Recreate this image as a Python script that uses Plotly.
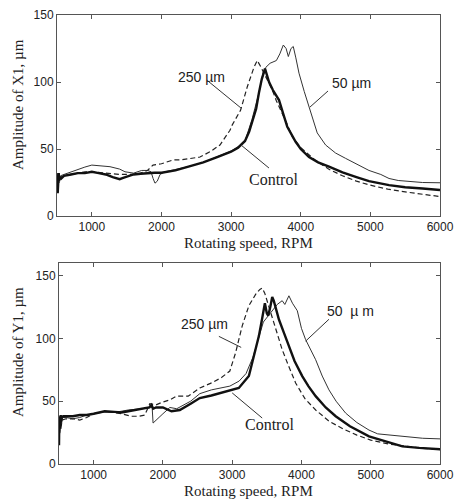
import plotly.graph_objects as go

# ---------------- data ----------------
# Top panel: Amplitude of X1
x1_ctrl_rpm = [500, 505, 510, 515, 520, 525, 530, 540, 560, 600, 700, 800, 900, 1000, 1100, 1200, 1300, 1400,
               1450, 1500, 1600, 1700, 1800, 1900, 2000, 2200, 2400, 2600, 2800, 3000, 3100, 3200, 3260, 3300,
               3330, 3360, 3400, 3440, 3487, 3520, 3545, 3600, 3688, 3750, 3807, 3927, 4000, 4119, 4250, 4406,
               4600, 4800, 4980, 5268, 5500, 5750, 6000]
x1_ctrl = [20, 31, 17, 30, 22, 32, 26, 29, 28, 30, 31, 32, 32, 33, 32, 31, 29, 27.5,
           28.5, 29.5, 31, 31.5, 32, 32.3, 32.3, 34, 37, 40, 44, 48, 51, 56, 63, 70,
           75, 80, 92, 102, 110, 105, 100, 94, 86.5, 76, 66.6, 55.4, 50, 44, 40, 36.8,
           32.5, 29, 26, 23, 21.5, 20.5, 19.4]

x1_50_rpm = [500, 505, 510, 520, 530, 550, 600, 700, 800, 900, 1000, 1100, 1261, 1400, 1476, 1600, 1716,
             1800, 1850, 1880, 1907, 1940, 1980, 2050, 2200, 2400, 2600, 2800, 3000, 3100, 3200, 3300,
             3400, 3460, 3500, 3560, 3650, 3700, 3750, 3790, 3822, 3860, 3893, 3930, 3975, 4050, 4120,
             4237, 4357, 4500, 4645, 4800, 4980, 5150, 5268, 5400, 5555, 5750, 6000]
x1_50 = [25, 32, 18, 30, 27, 30, 31, 33, 35, 36.5, 38, 37.5, 36.8, 35, 33, 32, 34,
         34, 33, 28, 24.5, 26, 31, 33, 34.5, 37, 40, 44, 48.5, 51.5, 56, 72,
         92, 107, 111, 114, 116, 121, 127.6, 125, 119, 125, 126.5, 118, 106.6, 93, 81.5,
         62, 53, 47, 43, 39, 34, 31, 28, 26.5, 25.6, 25, 24.8]

x1_250_rpm = [500, 505, 510, 520, 530, 550, 600, 700, 800, 900, 1000, 1200, 1400, 1600, 1700, 1800, 1879,
              2000, 2166, 2300, 2553, 2700, 2840, 2984, 3017, 3137, 3233, 3329, 3376, 3420, 3480, 3540,
              3592, 3650, 3736, 3800, 3880, 4000, 4200, 4400, 4600, 4800, 5000, 5250, 5500, 5750, 6000]
x1_250 = [22, 30, 19, 29, 25, 29, 30, 31, 32, 33, 33, 32, 31, 31, 32, 34, 38,
          39, 41.8, 42, 44, 48, 53, 64, 68, 79, 96.5, 111, 116, 112, 106, 100,
          94, 86, 76.8, 69, 59, 51, 42, 35, 30, 26, 23, 20, 18, 16.5, 14.5]

# Bottom panel: Amplitude of Y1
y1_ctrl_rpm = [500, 505, 510, 515, 520, 525, 530, 540, 560, 600, 700, 800, 900, 1000, 1160, 1300, 1401,
               1500, 1600, 1700, 1800, 1835, 1860, 1900, 2000, 2124, 2244, 2400, 2533, 2700, 2800, 2952,
               3096, 3241, 3314, 3386, 3430, 3472, 3500, 3520, 3550, 3578, 3600, 3675, 3750, 3819, 3900,
               4011, 4100, 4205, 4350, 4494, 4700, 4975, 5200, 5457, 5700, 6000]
y1_ctrl = [15, 38, 22, 36, 28, 39, 33, 37, 38, 38, 38, 39, 39, 40, 42, 41.5, 41,
           42, 43, 44, 45, 47, 44, 45, 45, 42, 43, 48, 52.5, 54.5, 56, 58,
           60.5, 70, 86, 102, 115, 128, 120, 118, 125, 133, 130, 115, 104, 94, 82,
           70, 62, 54, 45, 38, 30, 22, 18, 14, 12.8, 11.7]

y1_50_rpm = [500, 505, 510, 520, 530, 550, 600, 700, 800, 900, 1000, 1160, 1300, 1500, 1700, 1845, 1858,
             1900, 2000, 2100, 2200, 2400, 2533, 2700, 2966, 3100, 3200, 3300, 3350, 3450, 3550, 3650,
             3722, 3760, 3819, 3870, 3940, 4000, 4060, 4205, 4300, 4397, 4500, 4638, 4800, 4975, 5100,
             5264, 5500, 5750, 6000]
y1_50 = [20, 37, 25, 36, 33, 37, 37, 36, 37, 39, 40, 41.5, 41, 43, 44, 45, 32.6,
         35, 40, 45, 44, 50, 56, 59, 62, 66, 72, 85, 95, 113, 120, 127,
         130, 127, 133.9, 128, 122, 108, 99, 83, 70, 59, 50, 40.5, 33, 27, 24,
         23, 21.5, 20.5, 20]

y1_250_rpm = [500, 505, 510, 520, 530, 550, 600, 700, 800, 900, 1000, 1160, 1300, 1400, 1546, 1650, 1738,
              1811, 1900, 1980, 2100, 2196, 2364, 2533, 2722, 2850, 2966, 3049, 3145, 3241, 3338, 3400,
              3434, 3470, 3534, 3600, 3722, 3800, 3916, 4050, 4205, 4400, 4600, 4800, 5000, 5250, 5500,
              5750, 6000]
y1_250 = [18, 36, 24, 35, 30, 35, 36, 36, 35, 37, 40, 42, 41, 40, 38, 38, 39,
          48, 47, 49, 51, 54, 54, 60.5, 65, 69, 74, 88.5, 110, 126, 135, 139,
          140, 136, 124.5, 112, 91, 80, 64.5, 52, 43, 34, 28, 23, 19, 16, 14,
          12.5, 11.5]

x_ticks = [1000, 2000, 3000, 4000, 5000, 6000]
y_ticks = [0, 50, 100, 150]

# ---------------- figure ----------------
W, H = 459, 502
fig = go.Figure()

thick = dict(color="#111111", width=2.4)
thin = dict(color="#333333", width=1)
dashed = dict(color="#222222", width=1.2, dash="5px,3px")

for xs, ys, ln, ax in [
    (x1_50_rpm, x1_50, thin, ("x", "y")),
    (x1_250_rpm, x1_250, dashed, ("x", "y")),
    (x1_ctrl_rpm, x1_ctrl, thick, ("x", "y")),
    (y1_50_rpm, y1_50, thin, ("x2", "y2")),
    (y1_250_rpm, y1_250, dashed, ("x2", "y2")),
    (y1_ctrl_rpm, y1_ctrl, thick, ("x2", "y2")),
]:
    fig.add_trace(go.Scatter(x=xs, y=ys, mode="lines", line=ln, xaxis=ax[0], yaxis=ax[1],
                             showlegend=False, hoverinfo="skip"))

tickfont = dict(family="Liberation Sans, Arial", size=12, color="#222")
axis_common = dict(showgrid=False, zeroline=False, showline=True, linecolor="#555", linewidth=1,
                   mirror="ticks", ticks="inside", ticklen=4, tickcolor="#555", tickfont=tickfont,
                   automargin=False)

def px_x(p):
    return p / W

def px_y(p):
    return 1 - p / H

fig.update_layout(
    template="none",
    width=W, height=H, margin=dict(l=0, r=0, t=0, b=0, pad=0),
    paper_bgcolor="white", plot_bgcolor="white",
    xaxis=dict(domain=[px_x(57), px_x(440)], range=[500, 6000], tickvals=x_ticks, anchor="y", **axis_common),
    yaxis=dict(domain=[px_y(216), px_y(15)], range=[0, 150], tickvals=y_ticks, anchor="x", **axis_common),
    xaxis2=dict(domain=[px_x(59), px_x(440)], range=[500, 6000], tickvals=x_ticks, anchor="y2", **axis_common),
    yaxis2=dict(domain=[px_y(464), px_y(263)], range=[0, 160], tickvals=y_ticks, anchor="x2", **axis_common),
)

serif = "Liberation Serif, Times New Roman"
sans = "Liberation Sans, Arial"

def paper_text(txt, xp, yp, size, angle=0):
    fig.add_annotation(text=txt, x=px_x(xp), y=px_y(yp), xref="paper", yref="paper",
                       xanchor="center", yanchor="middle", textangle=angle, showarrow=False,
                       font=dict(family=serif, size=size, color="#222"))

# axis titles
paper_text("Rotating speed, RPM", 248, 243, 15)
paper_text("Rotating speed, RPM", 249, 491, 15)
paper_text("Amplitude of X1, µm", 18, 105, 15, -90)
paper_text("Amplitude of Y1, µm", 18, 352, 15, -90)

# curve labels (data coordinates) and leader lines
labels = [
    ("x", "y", "250 µm", 2582, 103.7, sans, 14, (2668, 100.7, 3142, 80.6)),
    ("x", "y", "50 µm", 4722, 99.2, sans, 14, (4392, 93.3, 4133, 81.3)),
    ("x", "y", "Control", 3609, 26.9, serif, 16, (3544, 35.8, 3142, 53)),
    ("x2", "y2", "250 µm", 2605, 111.2, sans, 14, (2808, 101.6, 3130, 92.8)),
    ("x2", "y2", "50  µ m", 4711, 121.8, sans, 14, (4397, 115.2, 4060, 97.8)),
    ("x2", "y2", "Control", 3545, 31.2, serif, 16, (3433, 36.6, 3000, 56.6)),
]
for xr, yr, txt, tx, ty, fam, sz, (x0, y0, x1, y1) in labels:
    fig.add_annotation(text=txt, x=tx, y=ty, xref=xr, yref=yr, showarrow=False,
                       xanchor="center", yanchor="middle",
                       font=dict(family=fam, size=sz, color="#222"))
    fig.add_shape(type="line", x0=x0, y0=y0, x1=x1, y1=y1, xref=xr, yref=yr,
                  line=dict(color="#333", width=1))

# remove the default page margin so the figure sits at the window's top-left corner
fig.write_html("out.html", config={"displayModeBar": False},
               post_script="document.body.style.margin='0';document.body.style.overflow='hidden';")
